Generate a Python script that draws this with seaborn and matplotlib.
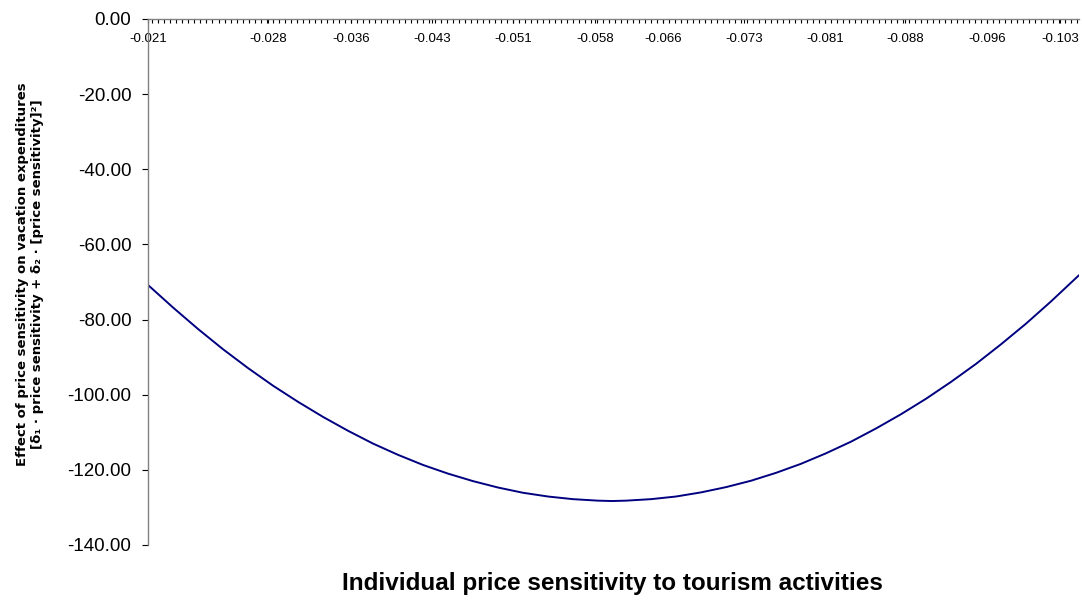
import seaborn as sns
import matplotlib.pyplot as plt
import matplotlib.ticker as mticker
import pandas as pd
import numpy as np

# Curve
price_sensitivity = [-0.02100, -0.02323, -0.02545, -0.02768, -0.02990, -0.03213,
                     -0.03436, -0.03658, -0.03881, -0.04103, -0.04326, -0.04549,
                     -0.04771, -0.04994, -0.05216, -0.05439, -0.05662, -0.05884,
                     -0.06107, -0.06232, -0.06356, -0.06579, -0.06801, -0.07024,
                     -0.07247, -0.07469, -0.07692, -0.07914, -0.08137, -0.08360,
                     -0.08582, -0.08805, -0.09027, -0.09250, -0.09473, -0.09695,
                     -0.09918, -0.10140, -0.10390]
effect = [-70.8, -76.8, -82.5, -87.9, -92.9, -97.6,
          -101.9, -105.9, -109.6, -113.0, -116.0, -118.7,
          -121.0, -123.0, -124.7, -126.1, -127.1, -127.8,
          -128.2, -128.3, -128.2, -127.8, -127.1, -126.0,
          -124.6, -122.9, -120.8, -118.4, -115.6, -112.5,
          -109.0, -105.2, -101.1, -96.6, -91.8, -86.6,
          -81.1, -75.2, -68.2]

# where the category labels sit along the axis
x_tick_values = [-0.02100, -0.03168, -0.03908, -0.04629, -0.05350, -0.06080,
                 -0.06686, -0.07407, -0.08128, -0.08840, -0.09570, -0.10225]
x_tick_labels = ['-0.021', '-0.028', '-0.036', '-0.043', '-0.051', '-0.058',
                 '-0.066', '-0.073', '-0.081', '-0.088', '-0.096', '-0.103']
y_ticks = [0, -20, -40, -60, -80, -100, -120, -140]

data = pd.DataFrame({'x': price_sensitivity, 'y': effect})

sns.set_style('white')
plt.rcParams['font.family'] = ['Liberation Sans', 'DejaVu Sans']
plt.rcParams['text.color'] = 'black'
plt.rcParams['xtick.labelcolor'] = 'black'
plt.rcParams['ytick.labelcolor'] = 'black'

fig = plt.figure(figsize=(10.82, 6.03), dpi=100)
ax = fig.add_axes([0.1368, 0.0962, 0.8604, 0.8723])

sns.lineplot(x='x', y='y', data=data, ax=ax, color='#000080', linewidth=1.4)

ax.set_xlim(-0.021, -0.1039)
ax.set_ylim(-140, 0)

# x axis drawn at y = 0 (top), labels below the line
ax.spines['bottom'].set_position(('data', 0))
ax.spines['top'].set_visible(False)
ax.spines['right'].set_visible(False)
for s in ['bottom', 'left']:
    ax.spines[s].set_color('#808080')
    ax.spines[s].set_linewidth(1.0)

ax.set_xticks(x_tick_values)
ax.set_xticklabels(x_tick_labels, fontsize=9.5, color='black')
ax.xaxis.set_minor_locator(mticker.MultipleLocator(0.0829 / 155))
ax.tick_params(axis='x', which='both', direction='out', length=3, color='black',
               width=0.8, pad=7, bottom=True)

ax.set_yticks(y_ticks)
ax.set_yticklabels([f'{v:.2f}' for v in y_ticks], fontsize=13.5, color='black')
ax.tick_params(axis='y', direction='out', length=4, color='black', width=0.8, pad=8, left=True)

ax.set_xlabel('')
ax.set_ylabel('')
ax.grid(False)

fig.text(0.566, 0.033, 'Individual price sensitivity to tourism activities',
         ha='center', va='center', fontsize=17.5, fontweight='bold', color='black')
fig.text(0.021, 0.546, 'Effect of price sensitivity on vacation expenditures',
         rotation=90, ha='center', va='center', fontsize=9.5, fontweight='bold',
         family=['DejaVu Sans'], color='black')
fig.text(0.0345, 0.546, '[δ₁ · price sensitivity + δ₂ · [price sensitivity]²]',
         rotation=90, ha='center', va='center', fontsize=9.5, fontweight='bold',
         family=['DejaVu Sans'], color='black')

plt.savefig('out.png', dpi=100)
